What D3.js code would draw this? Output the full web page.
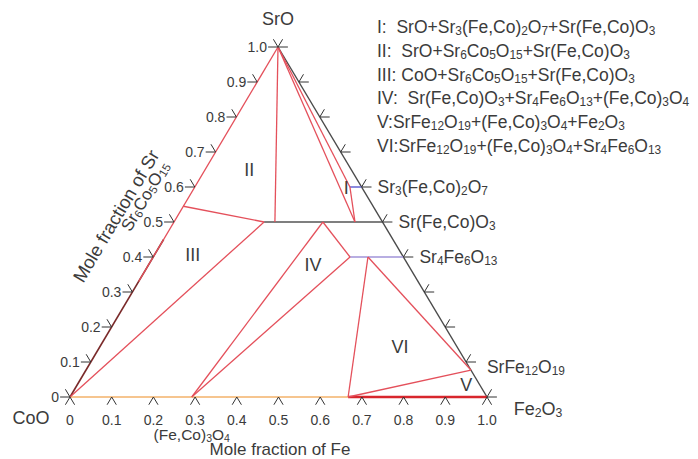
<!DOCTYPE html>
<html>
<head>
<meta charset="utf-8">
<script src="https://cdn.jsdelivr.net/npm/d3@7"></script>
<style>
  body { margin: 0; background: #fff; }
  svg { display: block; font-family: "Liberation Sans", Arial, sans-serif; }
</style>
</head>
<body>
<div class="Chart"></div>
<script>
// tick values shared by the three sides
const tickValues = [0, 0.1, 0.2, 0.3, 0.4, 0.5, 0.6, 0.7, 0.8, 0.9, 1.0];
const tickLabels = ['0', '0.1', '0.2', '0.3', '0.4', '0.5', '0.6', '0.7', '0.8', '0.9', '1.0'];

// corners: [name, fe, sr]
const corners = [
  ['SrO', 0, 1],
  ['CoO', 0, 0],
  ['Fe2O3', 1, 0]
];

// phases on the Fe2O3-SrO side: [name, fe, sr]
const edgePhases = [
  ['Sr3(Fe,Co)2O7', 0.4, 0.6],
  ['Sr(Fe,Co)O3', 0.5, 0.5],
  ['Sr4Fe6O13', 0.6, 0.4],
  ['SrFe12O19', 0.923, 0.077]
];

// solid solution lines: [fe1, sr1, fe2, sr2, colour]
const solidLines = [
  [0, 0, 0.667, 0, '#f3b26a'],
  [0.216, 0.5, 0.5, 0.5, '#555'],
  [0.372, 0.6, 0.4, 0.6, '#6f6fd6'],
  [0.472, 0.4, 0.6, 0.4, '#a193d8']
];

// red tie lines: [fe1, sr1, fe2, sr2]
const tieLines = [
  [0, 1, 0, 0.33],
  [0, 1, 0.242, 0.5],
  [0, 0.545, 0.216, 0.5],
  [0, 0, 0.216, 0.5],
  [0, 1, 0.434, 0.5],
  [0, 1, 0.372, 0.6],
  [0.372, 0.6, 0.434, 0.5],
  [0.292, 0, 0.357, 0.5],
  [0.292, 0, 0.472, 0.4],
  [0.357, 0.5, 0.472, 0.4],
  [0.667, 0, 0.515, 0.4],
  [0.515, 0.4, 0.923, 0.077],
  [0.667, 0, 0.923, 0.077]
];

// region labels: [text, fe, sr]
const regions = [
  ['I', 0.365, 0.597],
  ['II', 0.106, 0.649],
  ['III', 0.092, 0.406],
  ['IV', 0.395, 0.377],
  ['V', 0.933, 0.034],
  ['VI', 0.72, 0.143]
];

const legend = [
  'I:  SrO+Sr3(Fe,Co)2O7+Sr(Fe,Co)O3',
  'II:  SrO+Sr6Co5O15+Sr(Fe,Co)O3',
  'III: CoO+Sr6Co5O15+Sr(Fe,Co)O3',
  'IV:  Sr(Fe,Co)O3+Sr4Fe6O13+(Fe,Co)3O4',
  'V:SrFe12O19+(Fe,Co)3O4+Fe2O3',
  'VI:SrFe12O19+(Fe,Co)3O4+Sr4Fe6O13'
];

const width = 698, height = 459;
const svg = d3.select('.Chart').append('svg')
  .attr('width', width).attr('height', height);
svg.append('rect').attr('width', width).attr('height', height).attr('fill', '#fff');

const xScale = d3.scaleLinear().domain([0, 1]).range([70, 487]);   // Fe along base
const yScale = d3.scaleLinear().domain([0, 1]).range([397, 47]);   // Sr upwards
const shift = d3.scaleLinear().domain([0, 1]).range([0, 208]);     // lean towards apex
const px = (fe, sr) => xScale(fe) + shift(sr);
const py = (fe, sr) => yScale(sr);

const textColor = '#3b3b3b';

// writes a chemical formula with the digits as subscripts
function formula(sel, str, size) {
  const parts = str.match(/\d+|[^\d]+/g);
  let sub = false;
  parts.forEach(p => {
    const isNum = /^\d+$/.test(p);
    const t = sel.append('tspan').text(p);
    if (isNum) {
      t.style('font-size', (size * 0.68) + 'px').attr('dy', sub ? 0 : 2);
      sub = true;
    } else {
      t.attr('dy', sub ? -2 : 0);
      sub = false;
    }
  });
}

const g = svg.append('g');

// sides of the triangle
g.append('line')
  .attr('x1', px(0, 0)).attr('y1', py(0, 0)).attr('x2', px(0, 0.45)).attr('y2', py(0, 0.45))
  .attr('stroke', '#7a2a2a').attr('stroke-width', 1.6);
g.append('line')
  .attr('x1', px(1, 0)).attr('y1', py(1, 0)).attr('x2', px(0, 1)).attr('y2', py(0, 1))
  .attr('stroke', '#4a4a4a').attr('stroke-width', 1.4);
g.append('line')
  .attr('x1', px(0.667, 0)).attr('y1', py(0.667, 0)).attr('x2', px(1, 0)).attr('y2', py(1, 0))
  .attr('stroke', '#d8262c').attr('stroke-width', 2.6);

g.selectAll('.solid')
  .data(solidLines)
  .enter().append('line')
  .attr('class', 'solid')
  .attr('x1', d => px(d[0], d[1])).attr('y1', d => py(d[0], d[1]))
  .attr('x2', d => px(d[2], d[3])).attr('y2', d => py(d[2], d[3]))
  .attr('stroke', d => d[4])
  .attr('stroke-width', 1.6);

g.selectAll('.tie')
  .data(tieLines)
  .enter().append('line')
  .attr('class', 'tie')
  .attr('x1', d => px(d[0], d[1])).attr('y1', d => py(d[0], d[1]))
  .attr('x2', d => px(d[2], d[3])).attr('y2', d => py(d[2], d[3]))
  .attr('stroke', '#e4505b')
  .attr('stroke-width', 1.3);

// ticks: two short strokes on every side, along the other two sides
const L = 9;
const dLeft = [-0.511, 0.859];   // direction SrO -> CoO
const dRight = [0.513, 0.859];   // direction SrO -> Fe2O3
const tickPath = (x, y, a, b) =>
  `M${x + a[0] * L},${y + a[1] * L}L${x},${y}L${x + b[0] * L},${y + b[1] * L}`;

const ticks = g.append('g').attr('fill', 'none').attr('stroke', '#333').attr('stroke-width', 1);
tickValues.forEach(t => {
  ticks.append('path').attr('d', tickPath(px(t, 0), py(t, 0), dLeft, dRight));
  ticks.append('path').attr('d', tickPath(px(0, t), py(0, t), [-1.1, 0], [-dRight[0], -dRight[1]]));
  ticks.append('path').attr('d', tickPath(px(1 - t, t), py(1 - t, t), [1.1, 0], [-dLeft[0], -dLeft[1]]));
});

// tick labels
g.selectAll('.bLabel')
  .data(tickValues)
  .enter().append('text')
  .attr('class', 'bLabel')
  .attr('x', d => px(d, 0)).attr('y', 425)
  .attr('text-anchor', 'middle')
  .style('font-size', '14px').style('fill', textColor)
  .text((d, i) => tickLabels[i]);

g.selectAll('.lLabel')
  .data(tickValues)
  .enter().append('text')
  .attr('class', 'lLabel')
  .attr('x', d => px(0, d) - 11).attr('y', d => py(0, d) + 5)
  .attr('text-anchor', 'end')
  .style('font-size', '14px').style('fill', textColor)
  .text((d, i) => tickLabels[i]);

// corner names
const cornerPos = { 'SrO': [0, -22, 'middle'], 'CoO': [-39, 27, 'middle'], 'Fe2O3': [51, 18, 'middle'] };
corners.forEach(c => {
  const o = cornerPos[c[0]];
  const t = g.append('text')
    .attr('x', px(c[1], c[2]) + o[0]).attr('y', py(c[1], c[2]) + o[1])
    .attr('text-anchor', o[2])
    .style('font-size', '18px').style('fill', textColor);
  formula(t, c[0], 18);
});

// phases on the right side
edgePhases.forEach(p => {
  const t = g.append('text')
    .attr('x', px(p[1], p[2]) + 16).attr('y', py(p[1], p[2]) + (p[0] === 'SrFe12O19' ? 3 : 6))
    .style('font-size', '17.5px').style('fill', textColor);
  formula(t, p[0], 17.5);
});

// spinel label under the base
const sp = g.append('text')
  .attr('x', px(0.292, 0)).attr('y', 440)
  .attr('text-anchor', 'middle')
  .style('font-size', '15.5px').style('fill', textColor);
formula(sp, '(Fe,Co)3O4', 15.5);

g.append('text')
  .attr('x', 280).attr('y', 454.5)
  .attr('text-anchor', 'middle')
  .style('font-size', '17px').style('fill', textColor)
  .text('Mole fraction of Fe');

const angle = Math.atan2(py(0, 1) - py(0, 0), px(0, 1) - px(0, 0)) * 180 / Math.PI;
g.append('text')
  .attr('transform', `translate(116,216) rotate(${angle})`)
  .attr('text-anchor', 'middle').attr('dy', '0.35em')
  .style('font-size', '18.5px').style('fill', textColor)
  .text('Mole fraction of Sr');
const sc = g.append('text')
  .attr('transform', `translate(150,199) rotate(${angle})`)
  .attr('text-anchor', 'middle').attr('dy', '0.35em')
  .style('font-size', '17px').style('fill', textColor);
formula(sc, 'Sr6Co5O15', 17);

// region numerals
g.selectAll('.region')
  .data(regions)
  .enter().append('text')
  .attr('class', 'region')
  .attr('x', d => px(d[1], d[2])).attr('y', d => py(d[1], d[2]))
  .attr('text-anchor', 'middle').attr('dy', '0.35em')
  .style('font-size', '18px').style('fill', textColor)
  .text(d => d[0]);

// legend
legend.forEach((s, i) => {
  const t = g.append('text')
    .attr('x', 377).attr('y', 33 + i * 23.8)
    .style('font-size', '17.5px').style('fill', textColor)
    .style('white-space', 'pre');
  formula(t, s, 17.5);
});
</script>
</body>
</html>
